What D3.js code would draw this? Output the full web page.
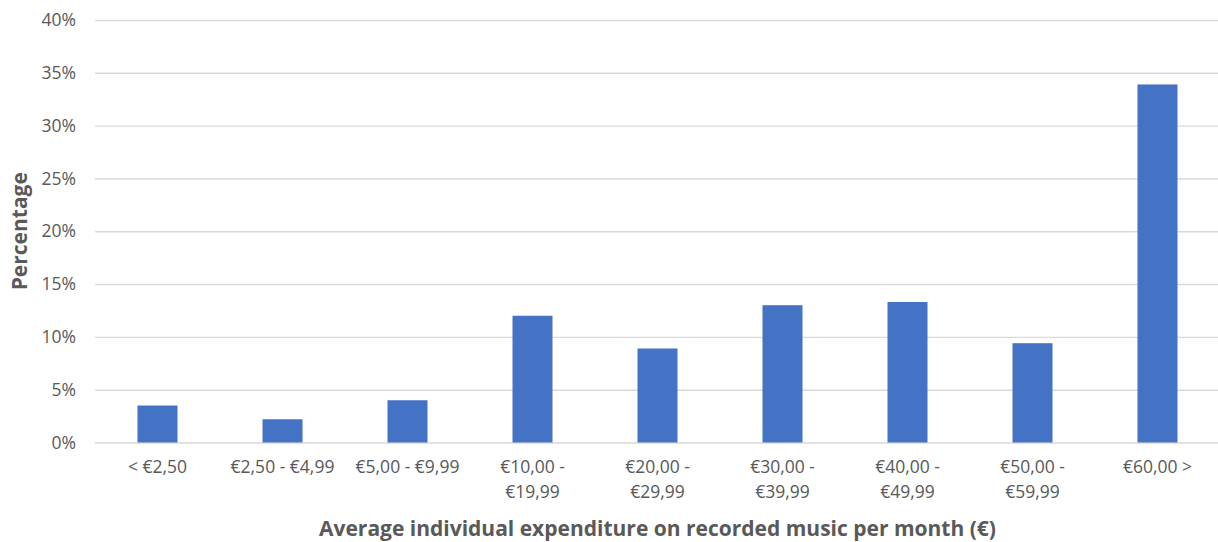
<!DOCTYPE html>
<html>
<head>
<meta charset="utf-8">
<script src="https://cdn.jsdelivr.net/npm/d3@7"></script>
<style>
  html, body { margin: 0; padding: 0; background: #fff; }
  svg { display: block; }
</style>
</head>
<body>
<svg id="chart" width="1218" height="542"></svg>
<script>
// Spending brackets and the share of respondents in each
const categories = [
  "< €2,50", "€2,50 - €4,99", "€5,00 - €9,99", "€10,00 - €19,99",
  "€20,00 - €29,99", "€30,00 - €39,99", "€40,00 - €49,99",
  "€50,00 - €59,99", "€60,00 >"
];
const percentages = [3.5, 2.2, 4.0, 12.0, 8.9, 13.0, 13.3, 9.4, 33.9];
const yTicks = [0, 5, 10, 15, 20, 25, 30, 35, 40];
const xTitle = "Average individual expenditure on recorded music per month (€)";
const yTitle = "Percentage";

const data = categories.map((c, i) => ({ category: c, value: percentages[i] }));

const svg = d3.select("#chart");
const margin = { left: 95, right: -2, top: 20, bottom: 99.5 };
const W = +svg.attr("width"), H = +svg.attr("height");
const innerW = W - margin.left - margin.right;
const innerH = H - margin.top - margin.bottom;

const FONT = "'Open Sans', Lato, sans-serif";
const TEXT = "#595959";
const TICK_SIZE = 17.5;

const x = d3.scaleBand().domain(categories).range([0, innerW]).paddingInner(0.68).paddingOuter(0.34);
const y = d3.scaleLinear().domain([0, 40]).range([innerH, 0]);

const g = svg.append("g").attr("transform", `translate(${margin.left},${margin.top})`);

// Horizontal gridlines with percentage labels
const yAxis = d3.axisLeft(y).tickValues(yTicks).tickSize(-innerW).tickPadding(19)
  .tickFormat(d => d + "%");
const yg = g.append("g").call(yAxis);
yg.select(".domain").remove();
yg.selectAll(".tick line").attr("stroke", "#d9d9d9").attr("stroke-width", 1.4);
yg.selectAll(".tick text").attr("fill", TEXT).attr("font-family", FONT).attr("font-size", TICK_SIZE);

// Bars
g.selectAll("rect.bar").data(data).join("rect")
  .attr("class", "bar")
  .attr("x", d => x(d.category))
  .attr("width", x.bandwidth())
  .attr("y", d => y(d.value))
  .attr("height", d => y(0) - y(d.value))
  .attr("fill", "#4472c4");

// Category labels, long ranges wrapped after the dash
const xAxis = d3.axisBottom(x).tickSize(0).tickPadding(18);
const xg = g.append("g").attr("transform", `translate(0,${innerH})`).call(xAxis);
xg.select(".domain").remove();
xg.selectAll(".tick text")
  .attr("fill", TEXT).attr("font-family", FONT).attr("font-size", TICK_SIZE)
  .each(function(d) {
    const t = d3.select(this);
    if (d.length > 13) {
      const parts = d.split(" - ");
      t.text(null);
      t.append("tspan").attr("x", 0).attr("dy", "0.71em").text(parts[0] + " -");
      t.append("tspan").attr("x", 0).attr("dy", "1.42em").text(parts[1]);
      t.attr("dy", null);
    }
  });

// Axis titles
svg.append("text")
  .attr("x", margin.left + innerW / 2).attr("y", 536)
  .attr("text-anchor", "middle")
  .attr("font-family", FONT).attr("font-weight", "bold").attr("font-size", 21)
  .attr("fill", TEXT).text(xTitle);

svg.append("text")
  .attr("transform", `translate(27,${margin.top + innerH / 2}) rotate(-90)`)
  .attr("text-anchor", "middle")
  .attr("font-family", FONT).attr("font-weight", "bold").attr("font-size", 21)
  .attr("fill", TEXT).text(yTitle);
</script>
</body>
</html>
